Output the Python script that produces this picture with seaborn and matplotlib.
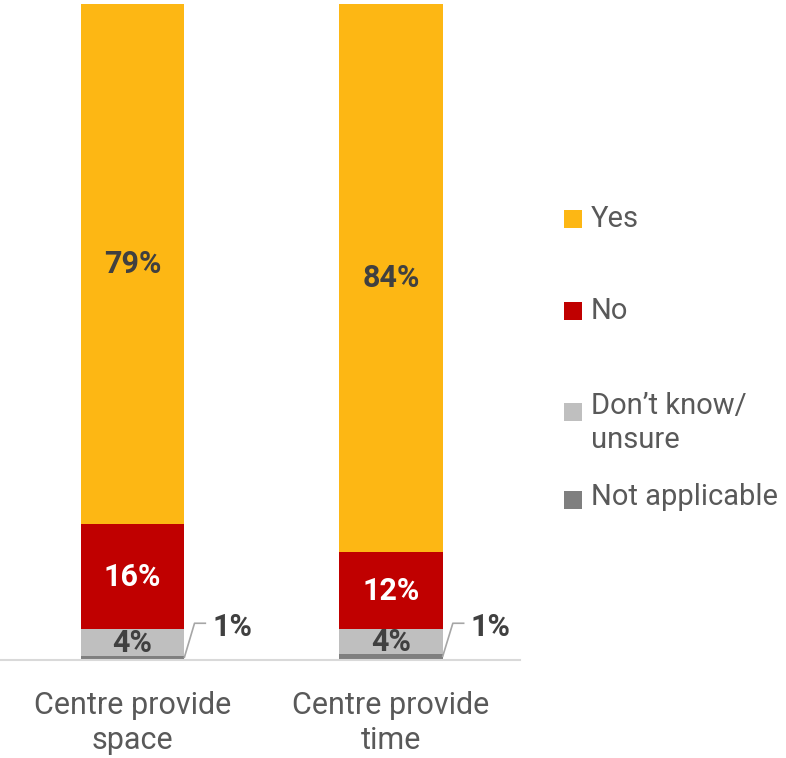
import matplotlib
matplotlib.use("Agg")
import matplotlib.pyplot as plt
import seaborn as sns
import numpy as np
import pandas as pd
from matplotlib.patches import Rectangle

# data (percent of respondents)
categories = ["Centre provide\nspace", "Centre provide\ntime"]
series = ["Yes", "No", "Don\u2019t know/\nunsure", "Not applicable"]
yes = [79.3, 83.6]
no = [16.0, 11.7]
dont_know = [4.1, 3.8]
not_applicable = [0.6, 0.9]
colors = ["#FDB714", "#C00000", "#BFBFBF", "#7F7F7F"]
label_colors = ["#404040", "white", "#404040", "#404040"]

sns.set_theme(style="white")
plt.rcParams["font.family"] = ["Roboto", "DejaVu Sans"]

# stack from the bottom: Not applicable, Don't know, No, Yes
stack = [not_applicable, dont_know, no, yes]
stack_colors = colors[::-1]
stack_label_colors = label_colors[::-1]
bottoms = np.cumsum([np.zeros(2)] + [np.array(s) for s in stack[:-1]], axis=0)
tops = np.cumsum([np.array(s) for s in stack], axis=0)

fig = plt.figure(figsize=(7.86, 7.58), dpi=100)
ax = fig.add_axes([0, 1 - 660 / 758, 520 / 786, 656 / 758])

bar_w = 0.4
# draw cumulative totals, tallest first, so each layer covers the one above it
for k in range(len(stack) - 1, -1, -1):
    df = pd.DataFrame({"cat": categories, "val": tops[k]})
    sns.barplot(data=df, x="cat", y="val", color=stack_colors[k], width=bar_w,
                saturation=1, linewidth=0, ax=ax)

# segment labels
for k, vals in enumerate(stack):
    for i, v in enumerate(vals):
        mid = bottoms[k][i] + v / 2
        if k == 0:
            # small segment: label outside with a leader line
            x_edge = i + bar_w / 2
            ax.plot([x_edge, x_edge + 0.04, x_edge + 0.085], [mid, 5.6, 5.6],
                    color="#A6A6A6", lw=1.2, solid_capstyle="butt", clip_on=False)
            ax.text(x_edge + 0.11, 5.0, f"{v:.0f}%", ha="left", va="center",
                    fontsize=22, fontweight="bold", color="#404040")
        else:
            ax.text(i, mid, f"{v:.0f}%", ha="center", va="center",
                    fontsize=22, fontweight="bold", color=stack_label_colors[k])

ax.set_xlim(-0.513, 1.5)
ax.set_ylim(0, 100)
ax.set_xlabel("")
ax.set_ylabel("")
ax.set_yticks([])
sns.despine(ax=ax, left=True)
ax.spines["bottom"].set_color("#D9D9D9")
ax.spines["bottom"].set_linewidth(1.5)
ax.tick_params(axis="x", length=0, pad=22, labelsize=22, labelcolor="#595959")
for t in ax.get_xticklabels():
    t.set_linespacing(1.3)

# legend drawn in Excel style: square aligned with first text line
legend_sq_y = [219, 311, 412, 500]
legend_txt_y = [219, 311, 423, 497]
for name, col, sy, ty in zip(series, colors, legend_sq_y, legend_txt_y):
    fig.add_artist(Rectangle((564 / 786, 1 - (sy + 9) / 758), 18 / 786, 18 / 758,
                             transform=fig.transFigure, color=col, lw=0))
    fig.text(591 / 786, 1 - ty / 758, name, ha="left", va="center",
             fontsize=21, color="#595959", linespacing=1.25,
             transform=fig.transFigure)

fig.savefig("out.png", dpi=100)
